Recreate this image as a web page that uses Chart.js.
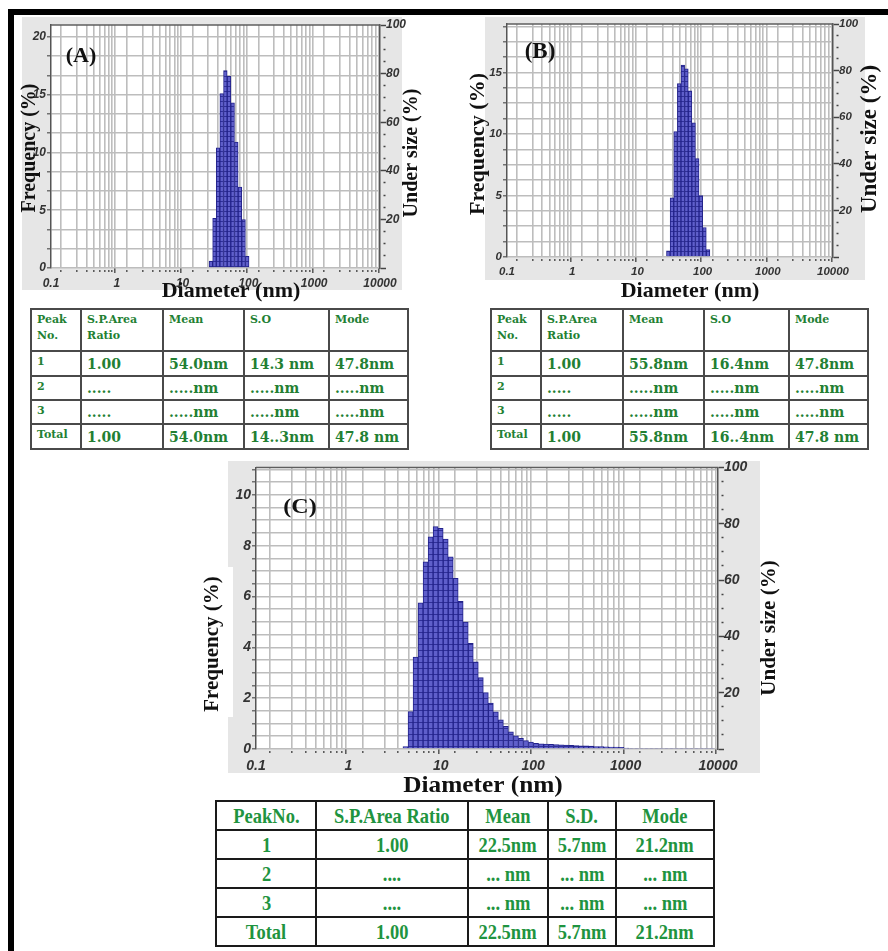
<!DOCTYPE html>
<html>
<head>
<meta charset="utf-8">
<script src="https://cdn.jsdelivr.net/npm/chart.js@4.4.1/dist/chart.umd.min.js"></script>
<style>
  html, body { margin: 0; padding: 0; background: #fff; }
  #page { position: relative; width: 888px; height: 951px; overflow: hidden; background: #fff; }
  .frame { position: absolute; background: #000; }
  canvas { position: absolute; }
  table { position: absolute; border-collapse: collapse; table-layout: fixed; font-weight: bold; }
  .ab { top: 308px; width: 377px; color: #237f33; font-family: 'DejaVu Serif', serif; }
  .ab th, .ab td { border: 2px solid #4a4a4a; padding: 0 0 0 5px; text-align: left; font-size: 14px;
                   vertical-align: middle; white-space: pre-line; overflow: hidden; }
  .ab th { font-size: 11px; line-height: 16px; vertical-align: top; padding-top: 2px; font-weight: bold; }
  .ab td:first-child { font-size: 11px; vertical-align: top; padding-top: 3px; }
  #tabA { left: 30px; }
  #tabB { left: 490px; }
  #tabC { left: 215px; top: 800px; width: 498px; color: #1f9440; font-family: 'Liberation Serif', 'Times New Roman', serif; }
  #tabC th, #tabC td { border: 2px solid #1a1a1a; padding: 0; text-align: center; font-size: 22px;
                       white-space: nowrap; font-weight: bold; }
  #tabC span { display: inline-block; transform: scaleX(0.84); }
</style>
</head>
<body>
<div id="page">
  <div class="frame" style="left:8px; top:9px; width:6px; height:942px;"></div>
  <div class="frame" style="left:8px; top:9px; width:880px; height:6px;"></div>
  <canvas id="chartA"></canvas>
  <canvas id="chartB"></canvas>
  <canvas id="chartC"></canvas>
  <table id="tabA" class="ab"></table>
  <table id="tabB" class="ab"></table>
  <table id="tabC"></table>
</div>
<script>
// Axis tick labels
const xTickLabels = ['0.1', '1', '10', '100', '1000', '10000'];
const underSizeLabels = ['20', '40', '60', '80', '100'];
const freqLabelsA = ['0', '5', '10', '15', '20'];
const freqLabelsB = ['0', '5', '10', '15'];
const freqLabelsC = ['0', '2', '4', '6', '8', '10'];

// (A) histogram: bin centre diameter (nm) and frequency (%)
const diameterA = [26.9, 30.5, 34.6, 39.3, 44.7, 50.7, 57.6, 65.5, 74.4, 84.5, 96.0];
const frequencyA = [0.6, 4.3, 10.4, 15.1, 17.1, 16.6, 14.3, 10.9, 7.0, 4.2, 1.0];

// (B)
const diameterB = [29.8, 33.9, 38.5, 43.7, 49.7, 56.5, 64.2, 72.8, 82.7, 94.0, 106.8, 121.3];
const frequencyB = [0.5, 4.8, 10.2, 14.1, 15.6, 15.3, 13.5, 10.9, 8.0, 5.0, 2.4, 0.6];

// (C)
const diameterC = [4.15, 4.71, 5.33, 6.04, 6.85, 7.76, 8.79, 9.96, 11.3, 12.8, 14.5, 16.4, 18.6, 21.1,
  23.9, 27.1, 30.7, 34.8, 39.4, 44.7, 50.6, 57.4, 65.0, 73.7, 83.5, 94.6, 107, 122, 138, 156, 177,
  200, 227, 257, 292, 330, 374, 424, 481, 545, 617, 699, 792, 898, 1017, 1153, 1307, 1481, 1678,
  1901, 2154, 2441, 2766, 3134, 3552, 4024, 4561, 5168, 5857, 6637, 7521, 8522];
const frequencyC = [0.1, 1.47, 3.62, 5.75, 7.36, 8.35, 8.75, 8.68, 8.26, 7.56, 6.72, 5.81, 4.99, 4.16,
  3.43, 2.81, 2.22, 1.81, 1.46, 1.15, 0.89, 0.68, 0.52, 0.42, 0.33, 0.27, 0.22, 0.2, 0.19, 0.18,
  0.17, 0.16, 0.15, 0.14, 0.13, 0.12, 0.12, 0.11, 0.1, 0.1, 0.09, 0.08, 0.08, 0.07, 0.04, 0.03,
  0.03, 0.03, 0.03, 0.03, 0.03, 0.03, 0.03, 0.03, 0.03, 0.03, 0.03, 0.03, 0.03, 0.03, 0.03, 0.03];

// Tables
const headAB = ['Peak\nNo.', 'S.P.Area\nRatio', 'Mean', 'S.O', 'Mode'];
const rowsA = [
  ['1', '1.00', '54.0nm', '14.3 nm', '47.8nm'],
  ['2', '.....', '.....nm', '.....nm', '.....nm'],
  ['3', '.....', '.....nm', '.....nm', '.....nm'],
  ['Total', '1.00', '54.0nm', '14..3nm', '47.8 nm']
];
const rowsB = [
  ['1', '1.00', '55.8nm', '16.4nm', '47.8nm'],
  ['2', '.....', '.....nm', '.....nm', '.....nm'],
  ['3', '.....', '.....nm', '.....nm', '.....nm'],
  ['Total', '1.00', '55.8nm', '16..4nm', '47.8 nm']
];
const headC = ['PeakNo.', 'S.P.Area Ratio', 'Mean', 'S.D.', 'Mode'];
const rowsC = [
  ['1', '1.00', '22.5nm', '5.7nm', '21.2nm'],
  ['2', '....', '... nm', '... nm', '... nm'],
  ['3', '....', '... nm', '... nm', '... nm'],
  ['Total', '1.00', '22.5nm', '5.7nm', '21.2nm']
];

function fillTable(id, head, rows, widths, heights, wrap) {
  const w = s => wrap ? '<span>' + s + '</span>' : s;
  let html = '<colgroup>' + widths.map(x => '<col style="width:' + x + 'px">').join('') + '</colgroup>';
  html += '<tr style="height:' + heights[0] + 'px">' + head.map(h => '<th>' + w(h) + '</th>').join('') + '</tr>';
  rows.forEach((r, i) => {
    html += '<tr style="height:' + heights[i + 1] + 'px">' + r.map(c => '<td>' + w(c) + '</td>').join('') + '</tr>';
  });
  document.getElementById(id).innerHTML = html;
}
fillTable('tabA', headAB, rowsA, [50, 82, 81, 85, 79], [42, 25, 24, 24, 25], false);
fillTable('tabB', headAB, rowsB, [50, 82, 81, 85, 79], [42, 25, 24, 24, 25], false);
fillTable('tabC', headC, rowsC, [100, 152, 80, 68, 98], [29, 29, 29, 29, 29], true);

// tick helpers
function logTicks() {
  const out = [];
  for (let e = 0; e < xTickLabels.length; e++) {
    const base = Number(xTickLabels[e]);
    if (e === xTickLabels.length - 1) { out.push({ value: base, major: true, name: xTickLabels[e] }); break; }
    for (let m = 1; m <= 9; m++) out.push({ value: base * m, major: m === 1, name: m === 1 ? xTickLabels[e] : '' });
  }
  return out;
}
function leftTicks(max, step, labels) {
  const out = [];
  for (let k = 0; k * step <= max + 1e-9; k++) {
    const v = k * step;
    const r = String(Math.round(v * 1000) / 1000);
    out.push({ value: v, name: labels.includes(r) ? r : '' });
  }
  return out;
}
function rightTicks() {
  const out = [];
  for (let v = 0; v <= 100; v += 5) {
    out.push({ value: v, major: v % 20 === 0, name: underSizeLabels.includes(String(v)) ? String(v) : '' });
  }
  return out;
}
function barPattern(cell, fill, line) {
  const c = document.createElement('canvas');
  c.width = 4; c.height = cell;
  const g = c.getContext('2d');
  g.fillStyle = fill; g.fillRect(0, 0, 4, cell);
  g.fillStyle = line; g.fillRect(0, 0, 4, 1);
  return g.createPattern(c, 'repeat');
}

function makeChart(cfg) {
  const canvas = document.getElementById(cfg.id);
  const b = cfg.box, p = cfg.plot;
  canvas.width = b.w; canvas.height = b.h;
  canvas.style.left = b.x + 'px'; canvas.style.top = b.y + 'px';
  const leftW = p.left - b.x, rightW = b.x + b.w - p.right;
  const topPad = p.top - b.y, bottomH = b.y + b.h - p.bottom;
  const tickFont = { family: "'Liberation Sans', Arial, sans-serif", size: cfg.tickSize, style: 'italic', weight: 'bold' };

  const panelPlugin = {
    id: 'panel',
    beforeDraw(chart) {
      const ctx = chart.ctx, a = chart.chartArea, g = cfg.panel;
      ctx.save();
      ctx.fillStyle = '#e6e6e6';
      ctx.fillRect(g.x0 - b.x, g.y0 - b.y, g.x1 - g.x0, g.y1 - g.y0);
      if (cfg.notch) {
        const n = cfg.notch;
        ctx.fillStyle = '#fff';
        ctx.fillRect(n.x0 - b.x, n.y0 - b.y, n.x1 - n.x0, n.y1 - n.y0);
      }
      ctx.fillStyle = '#fff';
      ctx.fillRect(a.left, a.top, a.right - a.left, a.bottom - a.top);
      ctx.restore();
    },
    afterDraw(chart) {
      const ctx = chart.ctx, a = chart.chartArea;
      ctx.save();
      ctx.strokeStyle = '#5e5e5e'; ctx.lineWidth = 1.5;
      ctx.beginPath(); ctx.moveTo(a.left, a.top); ctx.lineTo(a.right, a.top); ctx.stroke();
      ctx.fillStyle = '#111'; ctx.textAlign = 'center'; ctx.textBaseline = 'middle';
      cfg.titles.forEach(t => {
        ctx.save();
        ctx.translate(t.x - b.x, t.y - b.y);
        ctx.rotate(t.rot || 0);
        ctx.scale(t.sx || 1, 1);
        ctx.font = 'bold ' + t.size + "px 'Liberation Serif', 'Times New Roman', serif";
        ctx.fillText(t.text, 0, 0);
        ctx.restore();
      });
      ctx.restore();
    }
  };

  return new Chart(canvas.getContext('2d'), {
    type: 'bar',
    data: {
      datasets: [{
        data: cfg.diam.map((d, i) => ({ x: d, y: cfg.freq[i] })),
        backgroundColor: barPattern(cfg.cell, '#5f5fcb', '#2f2f98'),
        borderColor: '#22228a',
        borderWidth: 1,
        barThickness: 'flex',
        barPercentage: 1,
        categoryPercentage: 1,
        xAxisID: 'x',
        yAxisID: 'y'
      }]
    },
    options: {
      responsive: false,
      animation: false,
      devicePixelRatio: 1,
      layout: { autoPadding: false, padding: { top: topPad, left: 0, right: 0, bottom: 0 } },
      plugins: { legend: { display: false }, tooltip: { enabled: false } },
      scales: {
        x: {
          type: 'logarithmic', min: 0.1, max: 10000,
          afterBuildTicks: s => { s.ticks = logTicks(); },
          afterFit: s => { s.height = bottomH; },
          grid: {
            color: '#bdbdbd', lineWidth: 1.6, tickLength: 5, tickColor: '#555', tickWidth: 1.5,
            tickBorderDash: c => (c.tick && c.tick.major) ? [] : [0, 2, 2, 20]
          },
          border: { display: false },
          ticks: {
            autoSkip: false, maxRotation: 0, minRotation: 0, padding: cfg.xPad,
            font: tickFont, color: '#333', callback: (v, i, t) => t[i].name
          }
        },
        y: {
          position: 'left', min: 0, max: cfg.yMax,
          afterBuildTicks: s => { s.ticks = leftTicks(cfg.yMax, cfg.yStep, cfg.yLabels); },
          afterFit: s => { s.width = leftW; },
          grid: { color: '#bdbdbd', lineWidth: 1.6, tickLength: 4, tickColor: '#555', tickWidth: 1.2 },
          border: { color: '#555', width: 1.5 },
          ticks: { autoSkip: false, padding: 1, font: tickFont, color: '#333', callback: (v, i, t) => t[i].name }
        },
        y2: {
          position: 'right', min: 0, max: 100,
          afterBuildTicks: s => { s.ticks = rightTicks(); },
          afterFit: s => { s.width = rightW; },
          grid: {
            drawOnChartArea: false, tickLength: 6, tickColor: '#444', tickWidth: 1.5,
            tickBorderDash: c => (c.tick && c.tick.major) ? [] : [0, 3, 2, 20]
          },
          border: { color: '#555', width: 1.5 },
          ticks: { autoSkip: false, padding: 0, font: tickFont, color: '#333', callback: (v, i, t) => t[i].name }
        }
      }
    },
    plugins: [panelPlugin]
  });
}

const RV = -Math.PI / 2;

makeChart({
  id: 'chartA', box: { x: 15, y: 16, w: 413, h: 290 },
  plot: { left: 51, top: 25, right: 380, bottom: 268 },
  panel: { x0: 22, y0: 17, x1: 402, y1: 290 },
  yMax: 21.04, yStep: 5 / 3, yLabels: freqLabelsA,
  diam: diameterA, freq: frequencyA, cell: 5, tickSize: 12, xPad: 3,
  titles: [
    { text: 'Frequency (%)', x: 30, y: 148, rot: RV, size: 20 },
    { text: 'Diameter (nm)', x: 231, y: 291, size: 22 },
    { text: 'Under size (%)', x: 412, y: 153, rot: RV, size: 20 },
    { text: '(A)', x: 81, y: 56, size: 22 }
  ]
});

makeChart({
  id: 'chartB', box: { x: 462, y: 16, w: 424, h: 290 },
  plot: { left: 507, top: 24, right: 833, bottom: 257 },
  panel: { x0: 485, y0: 17, x1: 865, y1: 280 },
  yMax: 18.94, yStep: 1.25, yLabels: freqLabelsB,
  diam: diameterB, freq: frequencyB, cell: 5, tickSize: 11.5, xPad: 3,
  titles: [
    { text: 'Frequency (%)', x: 478, y: 144, rot: RV, size: 22 },
    { text: 'Diameter (nm)', x: 690, y: 291, size: 22 },
    { text: 'Under size (%)', x: 870, y: 139, rot: RV, size: 23 },
    { text: '(B)', x: 540, y: 52, size: 23 }
  ]
});

makeChart({
  id: 'chartC', box: { x: 185, y: 458, w: 610, h: 340 },
  plot: { left: 256, top: 467, right: 718, bottom: 749 },
  panel: { x0: 228, y0: 461, x1: 760, y1: 773 },
  notch: { x0: 185, y0: 567, x1: 233, y1: 717 },
  yMax: 11.08, yStep: 0.5, yLabels: freqLabelsC,
  diam: diameterC, freq: frequencyC, cell: 6, tickSize: 14, xPad: 4,
  titles: [
    { text: 'Frequency (%)', x: 213, y: 644, rot: RV, size: 21 },
    { text: 'Diameter (nm)', x: 483, y: 786, size: 23, sx: 1.1 },
    { text: 'Under size (%)', x: 770, y: 628, rot: RV, size: 21 },
    { text: '(C)', x: 300, y: 508, size: 20, sx: 1.2 }
  ]
});
</script>
</body>
</html>
